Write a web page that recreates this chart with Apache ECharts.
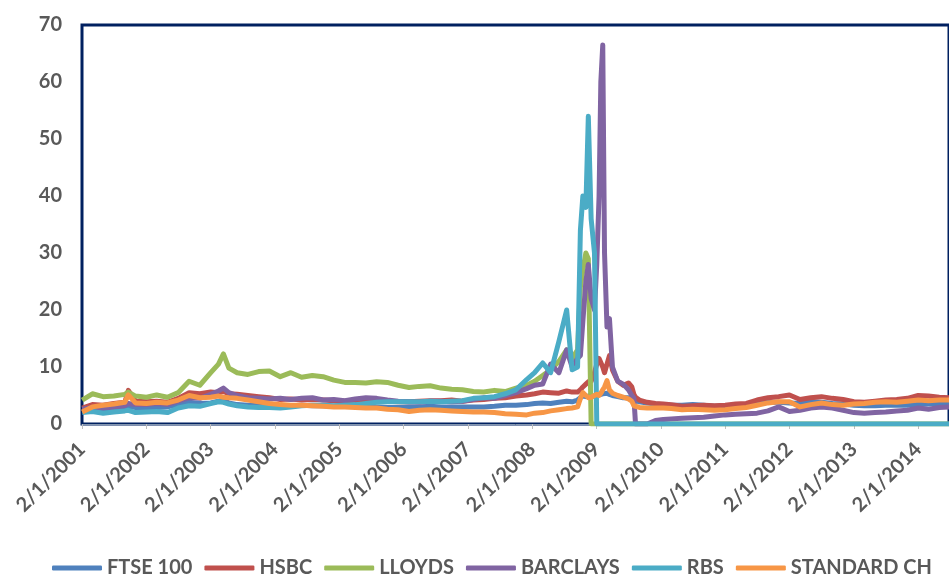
<!DOCTYPE html>
<html>
<head>
<meta charset="utf-8">
<script src="https://cdn.jsdelivr.net/npm/echarts@6/dist/echarts.min.js"></script>
<style>
  html, body { margin: 0; padding: 0; background: #fff; }
  #chart { width: 949px; height: 574px; }
</style>
</head>
<body>
<div id="chart"></div>
<script>
// dates (2/1/2001 = 2 Jan 2001, uk style)
var dates = [
  '2001-01-02','2001-03-01','2001-05-01','2001-07-01','2001-09-01','2001-09-21','2001-11-01',
  '2002-01-02','2002-03-01','2002-05-01','2002-07-01','2002-09-01','2002-11-01',
  '2003-01-02','2003-02-15','2003-03-15','2003-04-15','2003-06-01','2003-08-01','2003-10-01','2003-12-01',
  '2004-02-01','2004-04-01','2004-06-01','2004-08-01','2004-10-01','2004-12-01',
  '2005-02-01','2005-04-01','2005-06-01','2005-08-01','2005-10-01','2005-12-01',
  '2006-02-01','2006-04-01','2006-06-01','2006-08-01','2006-10-01','2006-12-01',
  '2007-02-01','2007-04-01','2007-06-01','2007-08-01','2007-10-01','2007-12-01',
  '2008-01-15','2008-03-01','2008-04-15','2008-06-01','2008-07-15','2008-08-15','2008-09-15',
  '2008-10-01','2008-10-15','2008-11-01','2008-11-15','2008-12-01','2008-12-20',
  '2009-01-02','2009-01-15','2009-01-25','2009-02-05','2009-02-15','2009-03-01','2009-03-15',
  '2009-04-01','2009-05-01','2009-06-01','2009-07-01','2009-07-20','2009-08-01','2009-08-10',
  '2009-09-01','2009-10-15','2009-12-01',
  '2010-01-15','2010-03-01','2010-05-01','2010-07-01','2010-09-01','2010-11-01',
  '2011-01-01','2011-03-01','2011-05-01','2011-07-01','2011-09-01','2011-11-01',
  '2012-01-01','2012-03-01','2012-05-01','2012-07-01','2012-09-01','2012-11-01',
  '2013-01-01','2013-03-01','2013-05-01','2013-07-01','2013-09-01','2013-11-01',
  '2014-01-01','2014-03-01','2014-05-01','2014-07-01'
];

var ftse = [
  2.4, 2.6, 2.6, 2.7, 2.9, 3.1, 2.9,
  2.9, 2.9, 3.0, 3.4, 3.8, 3.6,
  3.7, 4.0, 4.1, 3.7, 3.4, 3.3, 3.2, 3.2,
  3.2, 3.2, 3.3, 3.2, 3.2, 3.1,
  3.1, 3.1, 3.1, 3.0, 2.9, 2.9,
  3.0, 3.0, 3.1, 3.0, 3.0, 3.0,
  3.0, 3.0, 3.1, 3.3, 3.3, 3.4,
  3.6, 3.7, 3.6, 3.8, 4.0, 3.9, 4.2, 4.6, 4.9, 4.8, 4.9, 4.8, 4.9,
  5.0, 5.1, 5.2, 5.3, 5.4, 5.4, 5.2, 5.0, 4.8, 4.6, 4.6, 4.4, 4.2, 4.0, 3.9, 3.7, 3.5,
  3.4, 3.3, 3.3, 3.4, 3.3, 3.1,
  3.1, 3.2, 3.3, 3.5, 3.8, 3.8,
  3.7, 3.6, 3.9, 3.8, 3.6, 3.5,
  3.3, 3.2, 3.2, 3.3, 3.3, 3.3,
  3.4, 3.5, 3.6, 3.6
];
var hsbc = [
  2.8, 3.4, 3.3, 3.6, 3.8, 5.9, 4.0,
  3.9, 4.0, 3.8, 4.5, 5.5, 5.3,
  5.6, 5.5, 5.7, 5.3, 5.2, 5.0, 4.8, 4.6,
  4.3, 4.4, 4.2, 4.3, 4.2, 4.1,
  4.0, 4.1, 4.2, 4.2, 4.0, 3.9,
  3.9, 4.0, 4.1, 4.1, 4.2, 4.0,
  4.2, 4.3, 4.5, 4.6, 4.9, 5.1,
  5.3, 5.6, 5.5, 5.4, 5.8, 5.6, 5.6, 6.0, 6.5, 7.0, 7.4, 7.5, 9.0,
  10.5, 11.5, 11.8, 10.0, 9.0, 10.5, 12.0, 9.5, 7.5, 6.8, 7.2, 6.5, 5.2, 4.7, 4.2, 3.8, 3.6,
  3.5, 3.4, 3.1, 3.2, 3.3, 3.2,
  3.3, 3.5, 3.6, 4.2, 4.6, 4.8,
  5.1, 4.3, 4.6, 4.8, 4.5, 4.3,
  3.9, 3.8, 4.0, 4.2, 4.3, 4.5,
  5.0, 4.9, 4.7, 4.6
];
var lloyds = [
  4.2, 5.3, 4.8, 4.9, 5.2, 5.6, 4.9,
  4.7, 5.1, 4.7, 5.5, 7.5, 6.8,
  9.0, 10.5, 12.3, 9.8, 9.0, 8.7, 9.2, 9.3,
  8.3, 9.0, 8.2, 8.5, 8.3, 7.7,
  7.3, 7.3, 7.2, 7.4, 7.3, 6.8,
  6.4, 6.6, 6.7, 6.3, 6.1, 6.0,
  5.7, 5.6, 5.9, 5.7, 6.3, 6.8,
  7.5, 8.5, 9.5, 11.0, 13.0, 11.5, 13.0, 24.0, 27.0, 30.0, 29.0, 0, 0,
  0, 0, 0, 0, 0, 0, 0, 0, 0, 0, 0, 0, 0, 0, 0, 0, 0,
  0, 0, 0, 0, 0, 0,
  0, 0, 0, 0, 0, 0,
  0, 0, 0, 0, 0, 0,
  0, 0, 0, 0, 0, 0,
  0, 0, 0, 0
];
var barclays = [
  2.6, 2.9, 2.8, 3.0, 3.2, 3.6, 3.4,
  3.4, 3.6, 3.4, 4.0, 4.6, 4.5,
  5.2, 5.8, 6.3, 5.5, 5.0, 4.6, 4.5, 4.4,
  4.5, 4.3, 4.5, 4.6, 4.2, 4.3,
  4.1, 4.4, 4.6, 4.5, 4.2, 4.0,
  3.9, 3.8, 4.0, 4.0, 3.9, 4.0,
  4.3, 4.6, 4.5, 5.0, 5.5, 6.2,
  6.8, 7.0, 10.5, 9.0, 13.0, 10.0, 11.5, 12.0, 18.0, 25.0, 28.0, 22.0, 20.0,
  28.0, 40.0, 60.0, 66.5, 30.0, 17.0, 18.5, 10.0, 7.5, 7.0, 6.0, 5.0, 4.5, 0, 0, 0, 0.6,
  0.8, 0.9, 1.0, 1.1, 1.2, 1.4,
  1.6, 1.7, 1.8, 1.9, 2.3, 3.0,
  2.2, 2.4, 2.8, 3.0, 2.8, 2.4,
  2.0, 1.9, 2.0, 2.1, 2.3, 2.4,
  2.8, 2.6, 2.9, 3.0
];
var rbs = [
  2.0, 2.2, 1.9, 2.1, 2.3, 2.4, 2.0,
  2.1, 2.2, 2.0, 2.8, 3.2, 3.1,
  3.6, 3.9, 3.8, 3.5, 3.2, 3.0, 2.9, 2.9,
  2.8, 3.0, 3.2, 3.3, 3.3, 3.2,
  3.3, 3.4, 3.6, 3.8, 3.9, 3.9,
  3.9, 3.9, 4.0, 3.9, 4.0, 4.1,
  4.5, 4.6, 4.8, 5.3, 6.0, 7.8,
  9.0, 10.7, 9.0, 14.5, 20.0, 9.5, 10.0, 34.0, 40.0, 38.0, 54.0, 36.0, 30.0,
  0, 0, 0, 0, 0, 0, 0, 0, 0, 0, 0, 0, 0, 0, 0, 0, 0,
  0, 0, 0, 0, 0, 0,
  0, 0, 0, 0, 0, 0,
  0, 0, 0, 0, 0, 0,
  0, 0, 0, 0, 0, 0,
  0, 0, 0, 0
];
var stanch = [
  2.1, 3.0, 3.3, 3.5, 3.8, 5.1, 3.7,
  3.6, 3.8, 3.7, 4.2, 5.0, 4.6,
  4.7, 4.9, 4.7, 4.6, 4.5, 4.2, 3.9, 3.6,
  3.4, 3.3, 3.3, 3.2, 3.1, 3.0,
  3.0, 2.9, 2.8, 2.8, 2.6, 2.5,
  2.2, 2.4, 2.5, 2.4, 2.3, 2.2,
  2.1, 2.1, 2.0, 1.8, 1.7, 1.6,
  1.9, 2.0, 2.3, 2.5, 2.7, 2.8, 3.0, 4.5, 5.5, 5.0, 4.6, 4.7, 5.0,
  5.2, 5.0, 5.4, 6.0, 6.5, 7.6, 6.0, 5.4, 5.0, 4.7, 4.4, 4.0, 3.2, 3.0, 2.9, 2.8, 2.8,
  2.8, 2.7, 2.5, 2.6, 2.5, 2.4,
  2.5, 2.7, 2.9, 3.3, 3.7, 3.9,
  3.9, 3.0, 3.4, 3.7, 3.4, 3.3,
  3.5, 3.6, 3.8, 3.9, 3.8, 4.0,
  4.2, 4.1, 4.2, 4.2
];

var names = ['FTSE 100', 'HSBC', 'LLOYDS', 'BARCLAYS', 'RBS', 'STANDARD CH'];
var colors = ['#4F81BD', '#C0504D', '#9BBB59', '#8064A2', '#4BACC6', '#F79646'];
var values = [ftse, hsbc, lloyds, barclays, rbs, stanch];

var labelFont = { color: '#595959', fontWeight: 'bold', fontSize: 20, fontFamily: 'Lato' };
var YEAR = 365 * 24 * 3600 * 1000;

var chart = echarts.init(document.getElementById('chart'));
var option = {
  animation: false,
  grid: {
    left: 82, top: 25, right: -3, bottom: 150,
    show: true, borderColor: '#002060', borderWidth: 3, backgroundColor: 'transparent'
  },
  legend: {
    left: 47, top: 553, width: 940,
    icon: 'roundRect', itemWidth: 50, itemHeight: 5, itemGap: 12,
    textStyle: labelFont,
    data: names
  },
  xAxis: {
    type: 'time',
    min: '2001-01-01', max: '2014-06-25',
    offset: 3,
    minInterval: YEAR, maxInterval: YEAR, splitNumber: 14,
    axisLine: { lineStyle: { color: '#8497B0', width: 1 } },
    axisTick: { show: true, length: 5, lineStyle: { color: '#BFBFBF' } },
    splitLine: { show: false },
    axisLabel: Object.assign({
      rotate: 45, margin: 19, hideOverlap: false,
      formatter: function (v) { return '2/1/' + new Date(v).getFullYear(); }
    }, labelFont)
  },
  yAxis: {
    type: 'value', min: 0, max: 70, interval: 10,
    axisLine: { show: false },
    axisTick: { show: false },
    splitLine: { show: false },
    axisLabel: Object.assign({ margin: 20 }, labelFont)
  },
  series: names.map(function (n, k) {
    return {
      name: n, type: 'line', showSymbol: false, symbol: 'none',
      data: dates.map(function (d, i) { return [d, values[k][i]]; }),
      lineStyle: { width: 5, color: colors[k], join: 'round' },
      itemStyle: { color: colors[k] }
    };
  })
};
chart.setOption(option);
</script>
</body>
</html>
